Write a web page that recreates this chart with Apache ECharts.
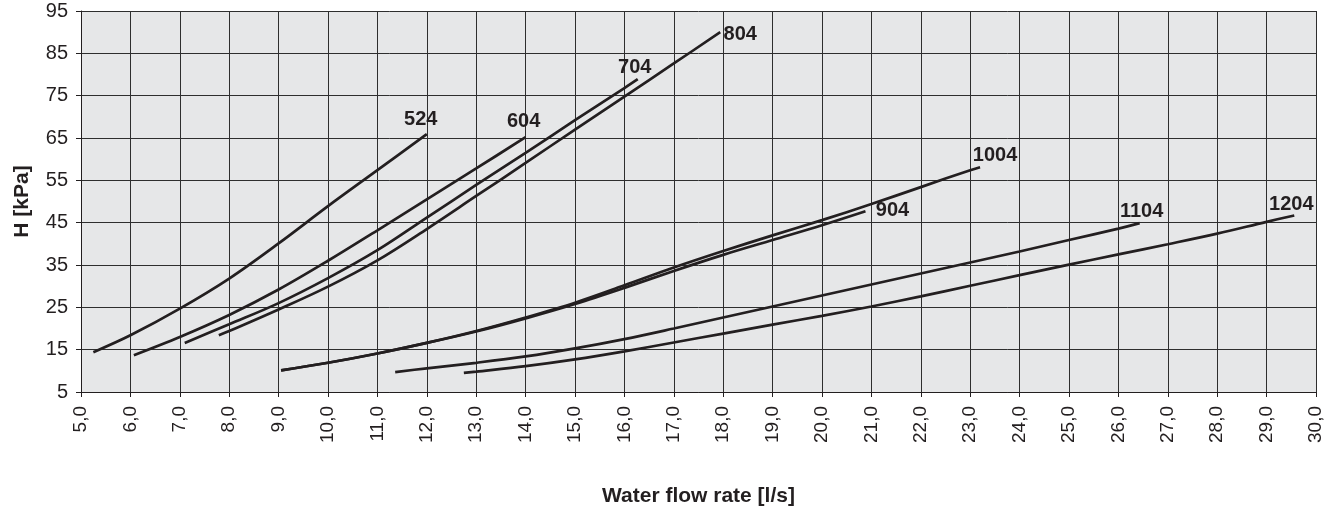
<!DOCTYPE html>
<html>
<head>
<meta charset="utf-8">
<title>Water flow rate vs pressure drop</title>
<script src="https://cdn.jsdelivr.net/npm/echarts@6/dist/echarts.min.js"></script>
<style>
  html, body { margin: 0; padding: 0; background: #ffffff; }
  #chart { width: 1338px; height: 515px; }
</style>
</head>
<body>
<div id="chart"></div>
<script>
// Pressure drop curves, H [kPa] against water flow rate [l/s], one per unit size
var seriesNames = ['524', '604', '704', '804', '904', '1004', '1104', '1204'];

var curve524 = [[5.25, 14.4], [6, 18.4], [7, 24.7], [8, 31.8], [9, 40.1], [10, 48.9], [11, 57.4], [12, 65.9]];
var curve604 = [[6.07, 13.7], [7, 18.0], [8, 23.2], [9, 29.2], [10, 36.0], [11, 43.2], [12, 50.5], [13, 57.8], [14, 65.2]];
var curve704 = [[7.1, 16.6], [8, 21.0], [9, 26.0], [10, 31.9], [11, 38.5], [12, 46.2], [13, 53.9], [14, 61.5], [15, 69.2], [16, 76.8], [16.27, 78.9]];
var curve804 = [[7.79, 18.4], [8, 19.4], [9, 24.5], [10, 29.9], [11, 36.1], [12, 43.5], [13, 51.3], [14, 59.1], [15, 67.0], [16, 74.8], [17, 82.6], [17.94, 90.0]];
var curve904 = [[9.05, 10.1], [10, 11.9], [11, 14.1], [12, 16.6], [13, 19.3], [14, 22.4], [15, 25.8], [16, 29.6], [17, 33.6], [18, 37.4], [19, 40.9], [20, 44.4], [20.88, 47.7]];
var curve1004 = [[9.05, 10.1], [10, 11.9], [11, 14.1], [12, 16.6], [13, 19.4], [14, 22.6], [15, 26.1], [16, 30.2], [17, 34.4], [18, 38.3], [19, 42.0], [20, 45.6], [21, 49.4], [22, 53.4], [23, 57.4], [23.2, 58.1]];
var curve1104 = [[11.36, 9.7], [12, 10.6], [13, 11.9], [14, 13.4], [15, 15.3], [16, 17.5], [17, 20.0], [18, 22.6], [19, 25.2], [20, 27.8], [21, 30.4], [22, 33.0], [23, 35.6], [24, 38.2], [25, 40.9], [26, 43.6], [26.43, 44.9]];
var curve1204 = [[12.75, 9.5], [13, 9.8], [14, 11.1], [15, 12.7], [16, 14.6], [17, 16.7], [18, 18.8], [19, 20.9], [20, 23.0], [21, 25.2], [22, 27.6], [23, 30.1], [24, 32.6], [25, 35.1], [26, 37.5], [27, 39.9], [28, 42.4], [29, 45.2], [29.56, 46.7]];

var curves = [curve524, curve604, curve704, curve804, curve904, curve1004, curve1104, curve1204];

// Axis ranges
var xMin = 5, xMax = 30, xStep = 1;
var yMin = 5, yMax = 95, yStep = 10;

// Where each curve's name sits relative to its last point (px)
var labelOffsets = {
  '524': [-6, -15],
  '604': [-2, -16],
  '704': [-3, -12],
  '804': [20, 2],
  '904': [27, -1],
  '1004': [15, -12],
  '1104': [2, -12],
  '1204': [-3, -11]
};

var FONT = '"Liberation Sans", Arial, Helvetica, sans-serif';
var INK = '#231f20';

var chart = echarts.init(document.getElementById('chart'), null, { renderer: 'canvas' });

var series = seriesNames.map(function (name, i) {
  return {
    name: name,
    type: 'line',
    data: curves[i],
    showSymbol: false,
    symbol: 'none',
    smooth: 0.35,
    silent: true,
    lineStyle: { color: INK, width: 2.7, cap: 'butt' },
    endLabel: {
      show: true,
      formatter: '{a}',
      color: INK,
      fontFamily: FONT,
      fontWeight: 'bold',
      fontSize: 20,
      align: 'center',
      verticalAlign: 'middle',
      distance: 0,
      offset: labelOffsets[name]
    },
    emphasis: { disabled: true }
  };
});

chart.setOption({
  animation: false,
  backgroundColor: '#ffffff',
  grid: {
    left: 81, right: 22, top: 11, bottom: 123,
    show: true,
    backgroundColor: '#e6e7e8',
    borderWidth: 0
  },
  xAxis: {
    type: 'value',
    min: xMin, max: xMax, interval: xStep,
    name: 'Water flow rate [l/s]',
    nameLocation: 'middle',
    nameGap: 94,
    nameTextStyle: { fontFamily: FONT, fontWeight: 'bold', fontSize: 21, color: INK },
    axisLine: { show: true, onZero: false, lineStyle: { color: '#231f20', width: 1 } },
    axisTick: { show: true, length: 5, lineStyle: { color: '#231f20', width: 1 } },
    axisLabel: {
      rotate: 90,
      margin: 14,
      fontFamily: FONT,
      fontSize: 19,
      color: INK,
      formatter: function (v) { return v.toFixed(1).replace('.', ','); }
    },
    splitLine: { show: true, lineStyle: { color: '#2e2e2e', width: 1 } }
  },
  yAxis: {
    type: 'value',
    min: yMin, max: yMax, interval: yStep,
    name: 'H [kPa]',
    nameLocation: 'middle',
    nameGap: 48,
    nameTextStyle: { fontFamily: FONT, fontWeight: 'bold', fontSize: 21, color: INK },
    axisLine: { show: true, onZero: false, lineStyle: { color: '#231f20', width: 1 } },
    axisTick: { show: true, length: 5, lineStyle: { color: '#231f20', width: 1 } },
    axisLabel: {
      margin: 13,
      fontFamily: FONT,
      fontSize: 20,
      color: INK
    },
    splitLine: { show: true, lineStyle: { color: '#2e2e2e', width: 1 } }
  },
  series: series
});
</script>
</body>
</html>
